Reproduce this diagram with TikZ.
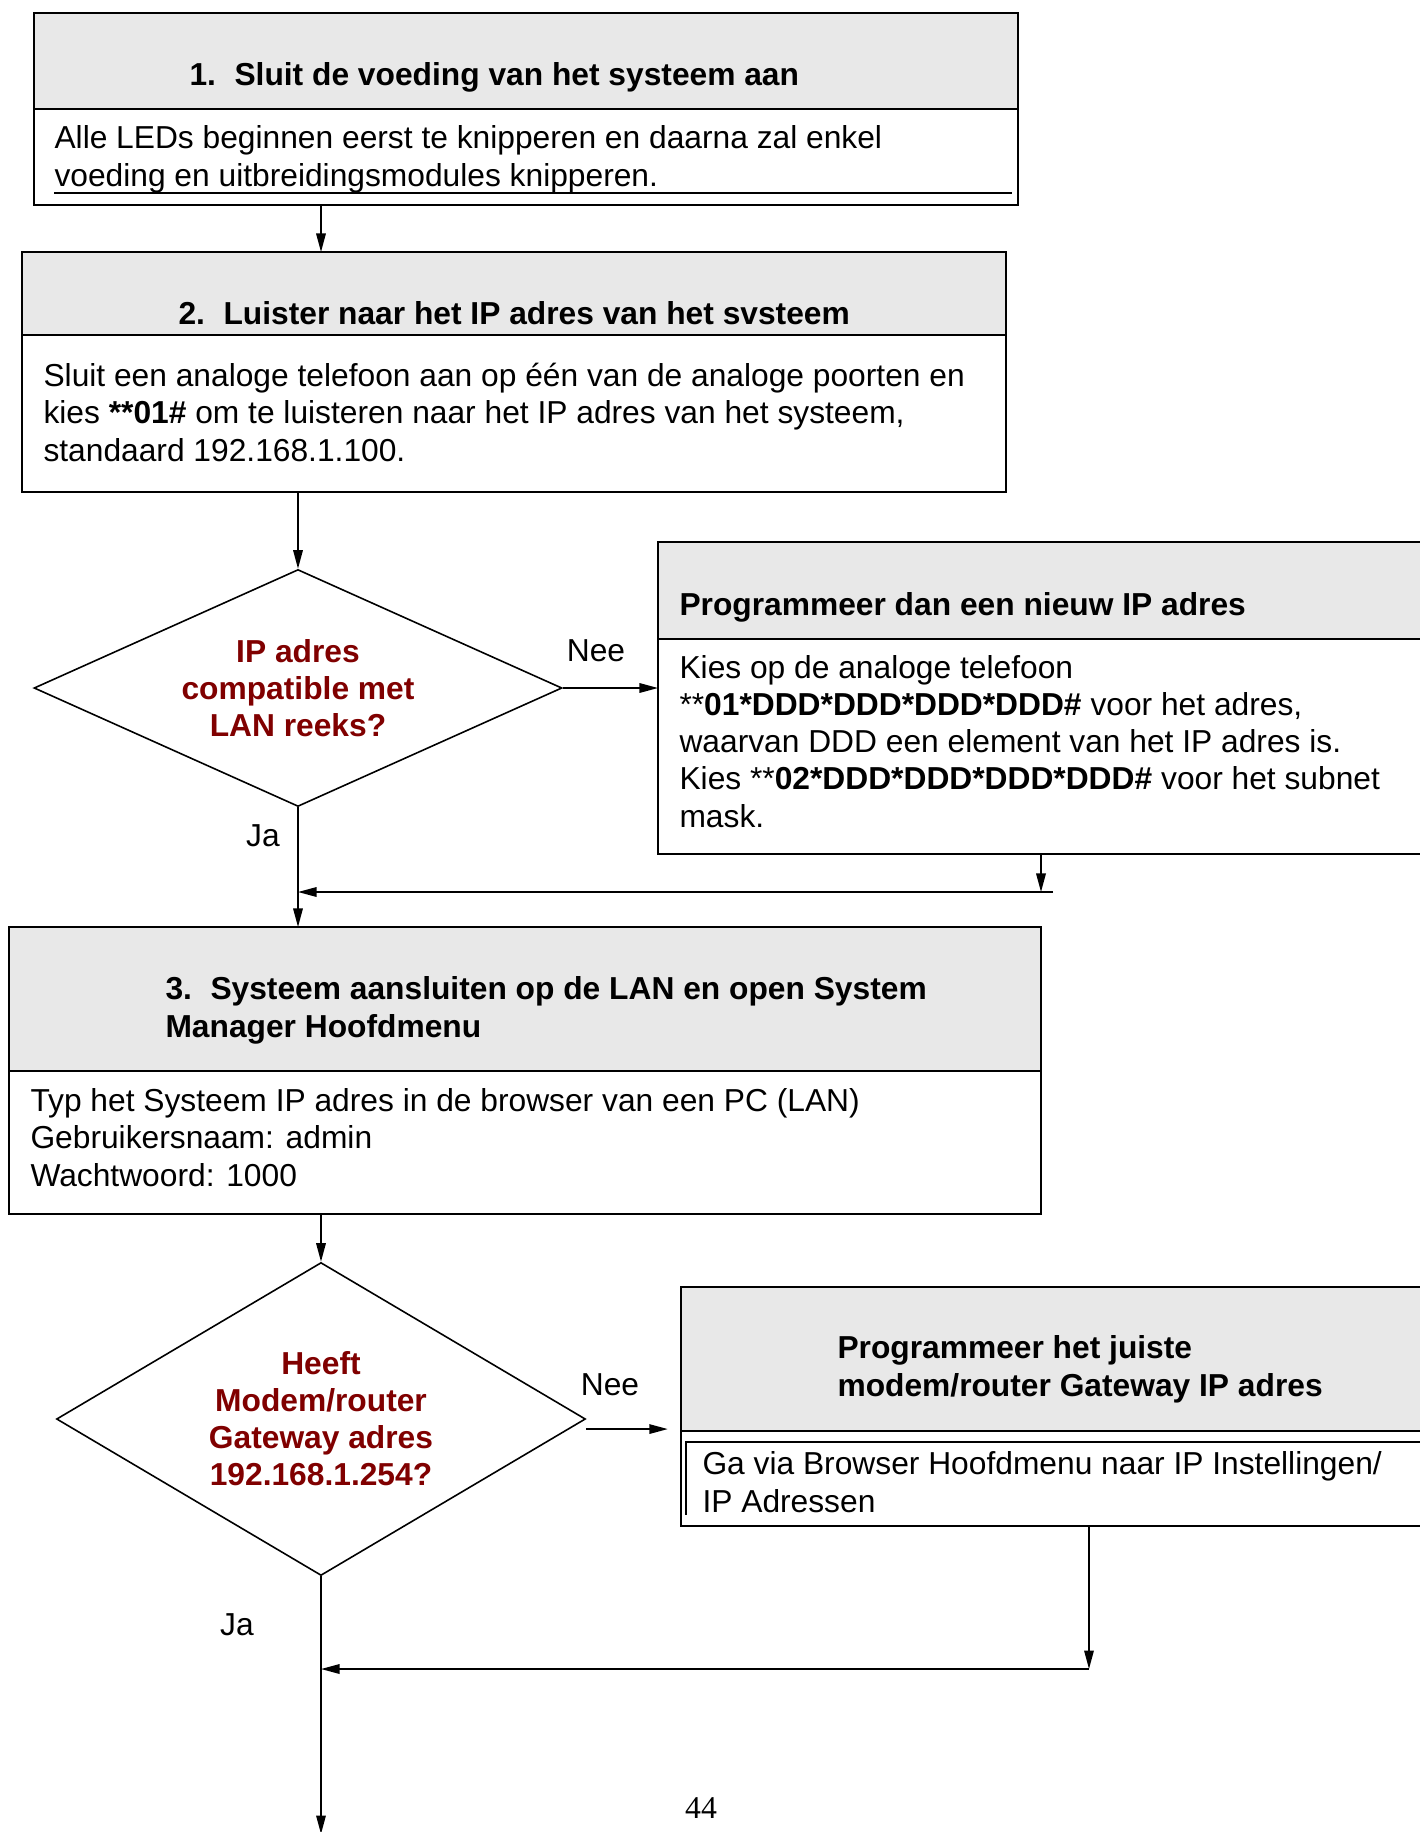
\documentclass[tikz,border=0pt]{standalone}
\usepackage{fontspec}
\setmainfont{Liberation Sans}
\newfontfamily\pagefont{Liberation Serif}
\usetikzlibrary{arrows.meta, positioning, calc, shapes.geometric}

\definecolor{vraagrood}{RGB}{128,0,0}
\definecolor{kopgrijs}{RGB}{232,232,232}
\newcommand{\pxl}[1]{#1*0.378pt}

\tikzset{
    kop/.style={draw, line width=0.8pt, fill=kopgrijs, anchor=north west, inner sep=0pt, outer sep=0pt},
    romp/.style={draw, line width=0.8pt, fill=white, anchor=north west, inner sep=0pt, outer sep=0pt},
    tekst/.style={anchor=base west, align=left, inner sep=0pt, font=\fontsize{12}{14}\selectfont},
    koptekst/.style={tekst, font=\fontsize{12}{14}\selectfont\bfseries},
    vraag/.style={diamond, draw, line width=0.6pt, inner sep=0pt, align=center,
        text=vraagrood, font=\fontsize{12}{14}\selectfont\bfseries},
    pijl/.style={-{Triangle[length=7pt,width=3.6pt]}, line width=0.6pt},
    label/.style={inner sep=0pt, font=\fontsize{12}{14}\selectfont}
}

\begin{document}
\begin{tikzpicture}[x=0.378pt, y=-0.378pt]
\path[use as bounding box, clip] (0,0) rectangle (1420,1832);

% stap 1
\node[kop, minimum width=\pxl{984}, minimum height=\pxl{96}] (stap1k) at (34,13) {};
\node[romp, minimum width=\pxl{984}, minimum height=\pxl{96}] (stap1r) at (stap1k.south west) {};
\draw[line width=0.4pt] (54,193) -- (1012,193);
\node[koptekst] (stap1t) at (189,85) {1.\hspace{7pt}Sluit de voeding van het systeem aan};
\node[tekst] (stap1x) at (54,186) {Alle LEDs beginnen eerst te knipperen en daarna zal enkel\\voeding en uitbreidingsmodules knipperen.};

% stap 2
\node[kop, minimum width=\pxl{984}, minimum height=\pxl{83}] (stap2k) at (22,252) {};
\node[romp, minimum width=\pxl{984}, minimum height=\pxl{157}] (stap2r) at (stap2k.south west) {};
\node[koptekst] (stap2t) at (178,324) {2.\hspace{7pt}Luister naar het IP adres van het svsteem};
\node[tekst] (stap2x) at (43,461) {Sluit een analoge telefoon aan op één van de analoge poorten en\\kies \textbf{**01\#} om te luisteren naar het IP adres van het systeem,\\standaard 192.168.1.100.};

% vraag 1 en nieuw IP adres
\node[vraag, aspect=2.2, minimum width=\pxl{528}, minimum height=\pxl{237}] (vraag1) at (298,688) {IP adres\\compatible met\\LAN reeks?};
\node[kop, minimum width=\pxl{800}, minimum height=\pxl{97}] (nieuwk) at (658,542) {};
\node[romp, minimum width=\pxl{800}, minimum height=\pxl{215}] (nieuwr) at (nieuwk.south west) {};
\node[koptekst] (nieuwt) at (679,615) {Programmeer dan een nieuw IP adres};
\node[tekst] (nieuwx) at (679,827) {Kies op de analoge telefoon\\**\textbf{01*DDD*DDD*DDD*DDD\#} voor het adres,\\waarvan DDD een element van het IP adres is.\\Kies **\textbf{02*DDD*DDD*DDD*DDD\#} voor het subnet\\mask.};

% stap 3
\node[kop, minimum width=\pxl{1032}, minimum height=\pxl{144}] (stap3k) at (9,927) {};
\node[romp, minimum width=\pxl{1032}, minimum height=\pxl{143}] (stap3r) at (stap3k.south west) {};
\node[koptekst] (stap3t) at (165,1037) {3.\hspace{7pt}Systeem aansluiten op de LAN en open System\\Manager Hoofdmenu};
\node[tekst] (stap3x) at (30,1186) {Typ het Systeem IP adres in de browser van een PC (LAN)\\Gebruikersnaam: admin\\Wachtwoord: 1000};

% vraag 2 en gateway
\node[vraag, aspect=1.7, minimum width=\pxl{529}, minimum height=\pxl{313}] (vraag2) at (321,1419) {Heeft\\Modem/router\\Gateway adres\\192.168.1.254?};
\node[kop, minimum width=\pxl{780}, minimum height=\pxl{144}] (gatewk) at (681,1287) {};
\node[romp, minimum width=\pxl{780}, minimum height=\pxl{95}] (gatewr) at (gatewk.south west) {};
\draw[line width=0.6pt] (1461,1442) -- (686,1442) -- (686,1515);
\node[koptekst] (gatewt) at (837,1396) {Programmeer het juiste\\modem/router Gateway IP adres};
\node[tekst] (gatewx) at (702,1512) {Ga via Browser Hoofdmenu naar IP Instellingen/\\IP Adressen};

% verbindingen
\coordinate (samen1) at (1053,892);
\coordinate (samen2) at (1089,1669);
\coordinate (uit) at (321,1834);
\draw[pijl] (stap1r.south -| vraag2) -- (stap2k.north -| vraag2);
\draw[pijl] (stap2r.south -| vraag1) -- (vraag1.north);
\draw[pijl] (vraag1.east) -- (vraag1.east -| nieuwr.west);
\draw[pijl] (vraag1.south) -- (stap3k.north -| vraag1);
\draw[pijl] (nieuwr.south -| stap3k.east) -- (samen1 -| stap3k.east);
\draw[pijl] (samen1) -- (samen1 -| vraag1);
\draw[pijl] (stap3r.south -| vraag2) -- (vraag2.north);
\draw[pijl] ([yshift=-3.8pt]vraag2.east) -- ([yshift=-3.8pt, xshift=-5pt]vraag2.east -| gatewk.west);
\draw[pijl] (gatewr.south -| samen2) -- (samen2);
\draw[pijl] (samen2) -- (samen2 -| vraag2);
\draw[pijl] (vraag2.south) -- (uit);

% labels
\node[label] (nee1) at (596,651) {Nee};
\node[label] (ja1) at (263,836) {Ja};
\node[label] (nee2) at (610,1385) {Nee};
\node[label] (ja2) at (237,1625) {Ja};
\node[label, font=\pagefont\fontsize{12}{14}\selectfont] (pagina) at (701,1808) {44};
\end{tikzpicture}
\end{document}
